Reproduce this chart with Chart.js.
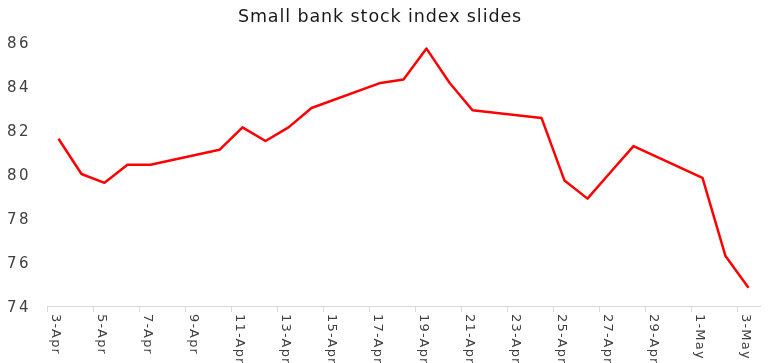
<!DOCTYPE html>
<html>
<head>
<meta charset="utf-8">
<script src="https://cdn.jsdelivr.net/npm/chart.js@4/dist/chart.umd.min.js"></script>
<style>
  html, body { margin: 0; padding: 0; background: #ffffff; }
  #wrap { width: 773px; height: 363px; position: relative; }
</style>
</head>
<body>
<div id="wrap"><canvas id="c"></canvas></div>
<script>
// ---- data ----
const chartTitle = 'Small bank stock index slides';
const dates = [
  '3-Apr','4-Apr','5-Apr','6-Apr','7-Apr','8-Apr','9-Apr','10-Apr','11-Apr','12-Apr',
  '13-Apr','14-Apr','15-Apr','16-Apr','17-Apr','18-Apr','19-Apr','20-Apr','21-Apr','22-Apr',
  '23-Apr','24-Apr','25-Apr','26-Apr','27-Apr','28-Apr','29-Apr','30-Apr','1-May','2-May','3-May'
];
const indexValues = [
  81.6, 80.0, 79.6, 80.42, 80.42, null, null, 81.1, 82.12, 81.5,
  82.12, 83.0, null, null, 84.14, 84.3, 85.7, 84.15, 82.9, null,
  null, 82.55, 79.7, 78.88, 80.08, 81.27, null, null, 79.82, 76.27, 74.83
];
const yTicks = [74, 76, 78, 80, 82, 84, 86];

// ---- styling ----
const FONT = 'DejaVu Sans';
const TEXT = '#404040';

function wrapSpacing(chart, obj, fnName, sp) {
  if (!obj || obj['_sp_' + fnName]) return;
  const orig = obj[fnName];
  obj[fnName] = function (...a) {
    const c = chart.ctx;
    const p = c.letterSpacing;
    c.letterSpacing = sp;
    const r = orig.apply(this, a);
    c.letterSpacing = p || '0px';
    return r;
  };
  obj['_sp_' + fnName] = true;
}

const spacingPlugin = {
  id: 'spacing',
  beforeDraw(chart) {
    wrapSpacing(chart, chart.scales.y, 'drawLabels', '2.5px');
    wrapSpacing(chart, chart.titleBlock, 'draw', '0.9px');
  }
};

// x labels rotated clockwise (read top to bottom), every second date
const xLabelPlugin = {
  id: 'xlabels',
  afterDraw(chart) {
    const sx = chart.scales.x;
    const ctx = chart.ctx;
    ctx.save();
    ctx.letterSpacing = '1.2px';
    ctx.font = '13px "' + FONT + '"';
    ctx.fillStyle = TEXT;
    ctx.textAlign = 'left';
    ctx.textBaseline = 'alphabetic';
    const top = sx.top + 8;
    dates.forEach((d, i) => {
      if (i % 2 !== 0) return;
      const x = sx.getPixelForValue(i) - 7;
      ctx.save();
      ctx.translate(x, top);
      ctx.rotate(Math.PI / 2);
      ctx.fillText(d, 0, 0);
      ctx.restore();
    });
    ctx.restore();
  }
};

new Chart(document.getElementById('c'), {
  type: 'line',
  data: {
    labels: dates,
    datasets: [{
      data: indexValues,
      borderColor: '#ff0000',
      borderWidth: 2.5,
      pointRadius: 0,
      pointHoverRadius: 0,
      tension: 0,
      spanGaps: true,
      fill: false,
      borderJoinStyle: 'round',
      borderCapStyle: 'butt'
    }]
  },
  options: {
    responsive: true,
    maintainAspectRatio: false,
    animation: false,
    events: [],
    layout: { padding: { left: 0, right: 13, top: 0, bottom: 0 } },
    plugins: {
      legend: { display: false },
      tooltip: { enabled: false },
      title: {
        display: true,
        text: chartTitle,
        color: '#1a1a1a',
        font: { family: FONT, size: 17.5, weight: 'normal' },
        padding: { top: 6.5, bottom: 14.5 }
      }
    },
    scales: {
      x: {
        type: 'category',
        offset: true,
        grid: {
          display: true,
          offset: true,
          drawOnChartArea: false,
          drawTicks: true,
          tickLength: 6,
          color: (c) => (c.index % 2 === 0 ? '#d9d9d9' : 'rgba(0,0,0,0)')
        },
        border: { display: true, color: '#d9d9d9', width: 1 },
        ticks: { display: false, autoSkip: false },
        afterFit: (s) => { s.height = 57; }
      },
      y: {
        min: 74,
        max: 86,
        afterBuildTicks: (s) => { s.ticks = yTicks.map(v => ({ value: v })); },
        grid: { display: false, drawTicks: false },
        border: { display: false },
        ticks: {
          color: TEXT,
          font: { family: FONT, size: 15 },
          padding: 16,
          labelOffset: 2
        },
        afterFit: (s) => { s.width = 47; }
      }
    }
  },
  plugins: [spacingPlugin, xLabelPlugin]
});
</script>
</body>
</html>
